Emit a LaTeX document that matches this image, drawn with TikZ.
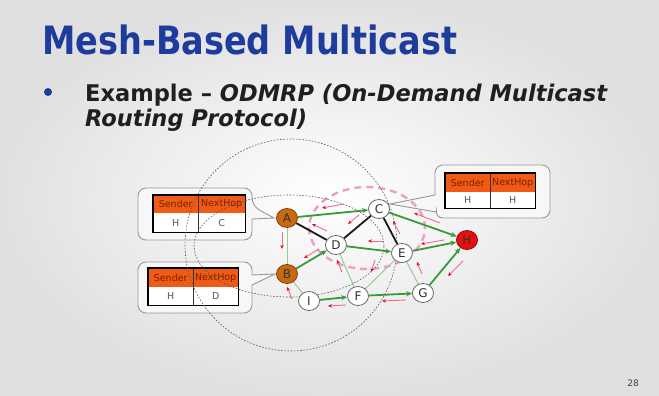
\documentclass[tikz,border=0pt]{standalone}
\usepackage{fontspec}
\setmainfont{DejaVu Sans}
\newfontfamily\slidefont[FakeStretch=0.86,BoldFont={DejaVu Sans Bold},ItalicFont={DejaVu Sans Oblique},BoldItalicFont={DejaVu Sans Bold Oblique}]{DejaVu Sans}
\newfontfamily\bodyfont[FakeStretch=0.98,BoldFont={DejaVu Sans Bold},ItalicFont={DejaVu Sans Oblique},BoldItalicFont={DejaVu Sans Bold Oblique}]{DejaVu Sans}
\usetikzlibrary{arrows.meta,shapes.geometric}
\definecolor{titleblue}{RGB}{30,60,158}
\definecolor{nodeorange}{RGB}{200,105,15}
\definecolor{nodeorangedark}{RGB}{130,60,5}
\definecolor{nodered}{RGB}{230,15,15}
\definecolor{noderedd}{RGB}{140,10,10}
\definecolor{edgegreen}{RGB}{55,155,55}
\definecolor{lightgreen}{RGB}{150,205,150}
\definecolor{hdrorange}{RGB}{240,90,20}
\definecolor{hdrtext}{RGB}{115,35,5}
\definecolor{celltext}{RGB}{85,85,85}
\definecolor{pinkdash}{RGB}{238,160,190}
\definecolor{qshaft}{RGB}{236,110,140}
\definecolor{qhead}{RGB}{220,20,30}
\pgfdeclarelayer{back}
\pgfdeclarelayer{mid}
\pgfsetlayers{back,mid,main}
\tikzset{
  netnode/.style={ellipse, minimum width=21pt, minimum height=19pt, inner sep=0pt,
    font=\fontsize{12}{12}\selectfont, text=black!80},
  whitenode/.style={netnode, draw=black!60, fill=white, line width=0.8pt},
  orangenode/.style={netnode, draw=nodeorangedark, fill=nodeorange, line width=0.8pt},
  rednode/.style={netnode, draw=noderedd, fill=nodered, line width=0.8pt},
  blackedge/.style={draw=black!90, line width=1.8pt},
  greenedge/.style={draw=edgegreen, line width=1.8pt, -{Stealth[length=6pt,width=5pt]}},
  thinedge/.style={draw=lightgreen, line width=1pt},
  qarrow/.style={draw=qshaft, line width=0.9pt, -{Stealth[length=4pt,width=3.5pt,color=qhead]}},
  rangecirc/.style={draw=black!65, line width=0.6pt, dash pattern=on 1.6pt off 1.6pt},
  pinkring/.style={draw=pinkdash, line width=2.4pt, dash pattern=on 7pt off 5pt},
  calloutbox/.style={draw=black!40, fill=white!97!black, line width=0.9pt},
  hdrcell/.style={fill=hdrorange, text=hdrtext, inner sep=0pt, anchor=north west,
    font=\fontsize{9.5}{9.5}\selectfont},
  datacell/.style={fill=white, text=celltext, inner sep=0pt, anchor=north west,
    font=\fontsize{9.5}{9.5}\selectfont},
  tblframe/.style={draw=black, line width=1.8pt},
  tbldiv/.style={draw=black!80, line width=0.8pt}
}
\begin{document}
\begin{tikzpicture}[x=1pt,y=-1pt]
\useasboundingbox (0,0) rectangle (659,396);
\begin{pgfonlayer}{back}
\shade[inner color=white, outer color=black!12] (0,0) rectangle (659,396);
\end{pgfonlayer}

% title and bullet text
\node[anchor=base west, inner sep=0pt, text=titleblue,
  font=\slidefont\bfseries\fontsize{39}{39}\selectfont] (title) at (42,55) {Mesh-Based Multicast};
\fill[titleblue] (48,92) circle[radius=4pt];
\node[anchor=base west, inner sep=0pt, text=black!88,
  font=\bodyfont\bfseries\fontsize{23}{23}\selectfont] (line1) at (85,101)
  {Example – \textit{ODMRP (On-Demand Multicast}};
\node[anchor=base west, inner sep=0pt, text=black!88,
  font=\bodyfont\bfseries\itshape\fontsize{23}{23}\selectfont] (line2) at (85,126)
  {Routing Protocol)};
\node[anchor=base, inner sep=0pt, text=black!75, font=\fontsize{9}{9}\selectfont] (pageno) at (633,386) {28};

% network nodes
\node[orangenode] (A) at (287,218) {A};
\node[whitenode]  (C) at (379,209) {C};
\node[whitenode]  (D) at (336,245) {D};
\node[whitenode]  (E) at (402,253) {E};
\node[rednode]    (H) at (467,240) {H};
\node[orangenode] (B) at (287,274) {B};
\node[whitenode]  (I) at (309,301) {I};
\node[whitenode]  (F) at (358,296) {F};
\node[whitenode]  (G) at (423,293) {G};

% callouts and tables
\begin{pgfonlayer}{back}
\draw[calloutbox] (138,214) [rounded corners=8pt] -- (138,188) -- (252,188) -- (252,206)
  [sharp corners] -- (274,218) -- (252,219) [rounded corners=8pt] -- (252,240) -- (138,240) -- cycle;
\draw[calloutbox] (138,290) [rounded corners=8pt] -- (138,262) -- (252,262) [sharp corners] -- (252,275)
  -- (275,274) -- (252,285) [rounded corners=8pt] -- (252,313) -- (138,313) -- cycle;
\draw[calloutbox] (490,165) [rounded corners=8pt] -- (550,165) -- (550,218) -- (435,218) [sharp corners]
  -- (436,212) -- (390,204) -- (435,195) [rounded corners=8pt] -- (435,165) -- (490,165);

\node[hdrcell, minimum width=45pt, minimum height=18pt] (t1s) at (153,195) {Sender};
\node[hdrcell, minimum width=47pt, minimum height=18pt] (t1n) at (198,195) {NextHop};
\node[datacell, minimum width=45pt, minimum height=19pt] (t1h) at (153,213) {H};
\node[datacell, minimum width=47pt, minimum height=19pt] (t1c) at (198,213) {C};
\draw[tbldiv] (t1n.north west) -- (t1c.south west);
\draw[tblframe] (t1s.north west) rectangle (t1c.south east);

\node[hdrcell, minimum width=45pt, minimum height=19pt] (t2s) at (148,268) {Sender};
\node[hdrcell, minimum width=45pt, minimum height=19pt] (t2n) at (193,268) {NextHop};
\node[datacell, minimum width=45pt, minimum height=18pt] (t2h) at (148,287) {H};
\node[datacell, minimum width=45pt, minimum height=18pt] (t2d) at (193,287) {D};
\draw[tbldiv] (t2n.north west) -- (t2d.south west);
\draw[tblframe] (t2s.north west) rectangle (t2d.south east);

\node[hdrcell, minimum width=45pt, minimum height=19pt] (t3s) at (445,173) {Sender};
\node[hdrcell, minimum width=45pt, minimum height=19pt] (t3n) at (490,173) {NextHop};
\node[datacell, minimum width=45pt, minimum height=16pt] (t3h) at (445,192) {H};
\node[datacell, minimum width=45pt, minimum height=16pt] (t3h2) at (490,192) {H};
\draw[tbldiv] (t3n.north west) -- (t3h2.south west);
\draw[tblframe] (t3s.north west) rectangle (t3h2.south east);
\end{pgfonlayer}

\begin{pgfonlayer}{mid}
% forwarding group ring
\draw[pinkring] (367,228) ellipse[x radius=58pt, y radius=41pt];
% thin links
\draw[thinedge] (A) -- (B);
\draw[thinedge] (B) -- (I);
\draw[thinedge] (D) -- (F);
\draw[thinedge] (F) -- (E);
\draw[thinedge] (E) -- (G);
% black links
\draw[blackedge] (A) -- (D);
\draw[blackedge] (D) -- (C);
\draw[blackedge] (C) -- (E);
% join reply (green) links
\draw[greenedge] (A) -- (C);
\draw[greenedge] (C) -- (H);
\draw[greenedge] (B) -- (D);
\draw[greenedge] (D) -- (E);
\draw[greenedge] (E) -- (H);
\draw[greenedge] (I) -- (F);
\draw[greenedge] (F) -- (G);
\draw[greenedge] (G) -- (H);
% transmission ranges
\draw[rangecirc] (291,245) circle[radius=106pt];
\draw[rangecirc] (289,246) ellipse[x radius=95pt, y radius=51pt];
% join query flood
\draw[qarrow] (344,204) -- (322,208);
\draw[qarrow] (327,231) -- (312,224);
\draw[qarrow] (359,215) -- (348,224);
\draw[qarrow] (282,232) -- (282,249);
\draw[qarrow] (319,249) -- (304,258);
\draw[qarrow] (292,299) -- (287,287);
\draw[qarrow] (346,305) -- (328,306);
\draw[qarrow] (406,300) -- (382,301);
\draw[qarrow] (463,261) -- (448,276);
\draw[qarrow] (342,272) -- (337,260);
\draw[qarrow] (384,241) -- (368,241);
\draw[qarrow] (375,260) -- (371,272);
\draw[qarrow] (400,234) -- (393,221);
\draw[qarrow] (444,240) -- (421,244);
\draw[qarrow] (440,223) -- (414,213);
\draw[qarrow] (422,274) -- (417,262);
\end{pgfonlayer}
\end{tikzpicture}
\end{document}
